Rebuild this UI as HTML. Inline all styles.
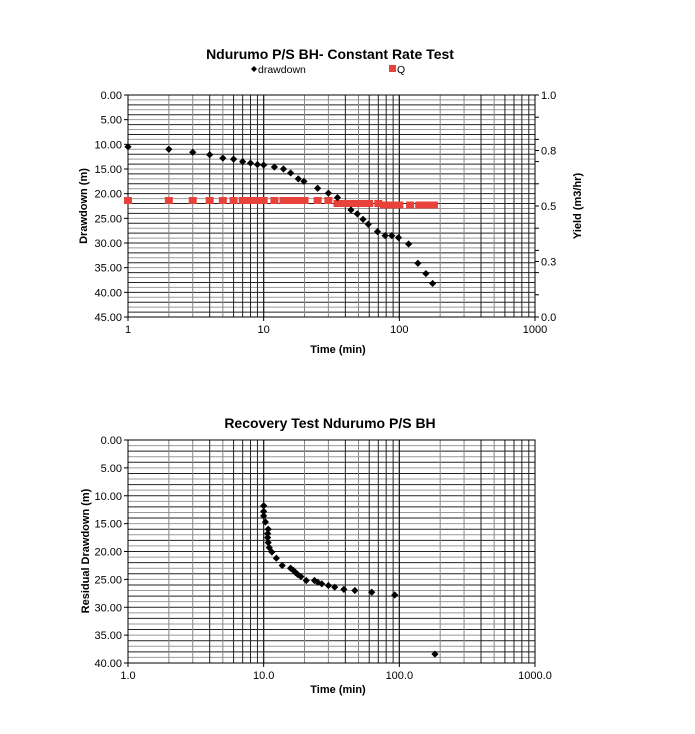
<!DOCTYPE html>
<html><head><style>body{margin:0;background:#fff}svg{display:block;font-family:"Liberation Sans",Arial,sans-serif}</style></head>
<body>
<svg id="s" width="695" height="734" xmlns="http://www.w3.org/2000/svg">
<rect width="695" height="734" fill="#fff"/>
<text x="330" y="59" font-size="14" font-weight="bold" text-anchor="middle">Ndurumo P/S BH- Constant Rate Test</text>
<path d="M251 69 l3 -3 l3 3 l-3 3z" fill="#000"/><text x="258" y="73" font-size="10.5">drawdown</text>
<rect x="389" y="65" width="7" height="7" fill="#e8433a"/><text x="397" y="73" font-size="10.5">Q</text>
<text x="330" y="428" font-size="14" font-weight="bold" text-anchor="middle">Recovery Test Ndurumo P/S BH</text>
<g id="g1"></g><g id="g2"></g>
<text x="338" y="353" font-size="11" font-weight="bold" text-anchor="middle">Time (min)</text>
<text x="338" y="693" font-size="11" font-weight="bold" text-anchor="middle">Time (min)</text>
<text transform="translate(87,206) rotate(-90)" font-size="11" font-weight="bold" text-anchor="middle">Drawdown (m)</text>
<text transform="translate(89,551) rotate(-90)" font-size="11" font-weight="bold" text-anchor="middle">Residual Drawdown (m)</text>
<text transform="translate(581,206) rotate(-90)" font-size="11" font-weight="bold" text-anchor="middle">Yield (m3/hr)</text>
</svg>
<script>
const NS="http://www.w3.org/2000/svg";
function el(p,t,a){const e=document.createElementNS(NS,t);for(const k in a)e.setAttribute(k,a[k]);p.appendChild(e);return e}
function chart(g,x0,x1,y0,y1,ymax,dec){
  const W=(x1-x0)/3, H=y1-y0;
  for(let i=1;i<ymax;i++){const y=y0+H*i/ymax;el(g,'line',{x1:x0,x2:x1,y1:y,y2:y,stroke:i%2?'#999':'#222','stroke-width':1})}
  for(let d=0;d<3;d++)for(let k=1;k<=9;k++){if(d==0&&k==1)continue;const x=x0+W*(d+Math.log10(k));el(g,'line',{x1:x,x2:x,y1:y0,y2:y1,stroke:(k==2||k==3||k==5)?'#888':'#222','stroke-width':k==1?1.3:1})}
  el(g,'rect',{x:x0,y:y0,width:x1-x0,height:H,fill:'none',stroke:'#000','stroke-width':1});
  for(let v=0;v<=ymax;v+=5){const y=y0+H*v/ymax;el(g,'line',{x1:x0-4,x2:x0,y1:y,y2:y,stroke:'#000'});const t=el(g,'text',{x:x0-6,y:y+4,'font-size':11,'text-anchor':'end'});t.textContent=v.toFixed(2)}
  const lab=dec?['1.0','10.0','100.0','1000.0']:['1','10','100','1000'];
  for(let d=0;d<4;d++){const x=x0+W*d;el(g,'line',{x1:x,x2:x,y1:y1,y2:y1+4,stroke:'#000'});const t=el(g,'text',{x:x,y:y1+16,'font-size':11,'text-anchor':'middle'});t.textContent=lab[d]}
  return (t,s)=>[x0+W*Math.log10(t),y0+H*s/ymax];
}
const g1=document.getElementById('g1'),g2=document.getElementById('g2');
const f1=chart(g1,128,535,95,317,45,false);
for(let i=0;i<=10;i++){const y=317-222*i/10;el(g1,'line',{x1:535,x2:539,y1:y,y2:y,stroke:'#000'})}
[[0,'0.0'],[0.25,'0.3'],[0.5,'0.5'],[0.75,'0.8'],[1,'1.0']].forEach(([v,l])=>{const y=317-222*v;el(g1,'line',{x1:535,x2:539,y1:y,y2:y,stroke:'#000'});const t=el(g1,'text',{x:541,y:y+4,'font-size':11});t.textContent=l});
function dia(g,x,y){el(g,'path',{d:`M${x} ${y-3.6}L${x+3.6} ${y}L${x} ${y+3.6}L${x-3.6} ${y}Z`,fill:'#000'})}
const q1=[1,2,3,4,5,6,7,8,9,10,12,14,16,18,20,25,30],q2=[35,37,40,42,45,47,50,52,55,57,60,70],q3=[77,80,83,86,90,95,100,120,140,160,180];
q1.forEach(t=>{const x=128+135.67*Math.log10(t);el(g1,'rect',{x:x-4,y:197,width:8,height:7,fill:'#e8433a'})});
q2.forEach(t=>{const x=128+135.67*Math.log10(t);el(g1,'rect',{x:x-4,y:200,width:8,height:7,fill:'#e8433a'})});
q3.forEach(t=>{const x=128+135.67*Math.log10(t);el(g1,'rect',{x:x-4,y:201.5,width:8,height:7,fill:'#e8433a'})});
const d1=[[1,10.5],[2,11],[3,11.6],[4,12.1],[5,12.8],[6,13],[7,13.5],[8,13.8],[9,14.1],[10,14.2],[12,14.6],[14,15],[15.8,15.8],[18,17],[19.8,17.5],[25,18.9],[30,19.9],[35,20.8],[44,23.3],[49,24.1],[54,25.2],[59,26.2],[69,27.7],[78.6,28.5],[88,28.5],[98.5,28.9],[117,30.2],[137,34.1],[157,36.2],[176,38.2]];
d1.forEach(([t,s])=>{const [x,y]=f1(t,s);dia(g1,x,y)});
const f2=chart(g2,128,535,440,663,40,true);
const d2=[[10,11.8],[10,12.8],[10,13.6],[10.3,14.7],[10.8,16],[10.7,16.8],[10.7,17.5],[10.8,18.4],[11,19.3],[11.5,20.1],[12.4,21.2],[13.7,22.5],[15.8,23],[16.6,23.4],[17.2,23.8],[17.8,24.1],[18.8,24.5],[20.6,25.2],[23.7,25.2],[25,25.5],[26.8,25.8],[30,26.1],[33.4,26.4],[39,26.8],[47,27],[62.6,27.3],[92.5,27.8],[183,38.4]];
d2.forEach(([t,s])=>{const [x,y]=f2(t,s);dia(g2,x,y)});
</script>
</body></html>
